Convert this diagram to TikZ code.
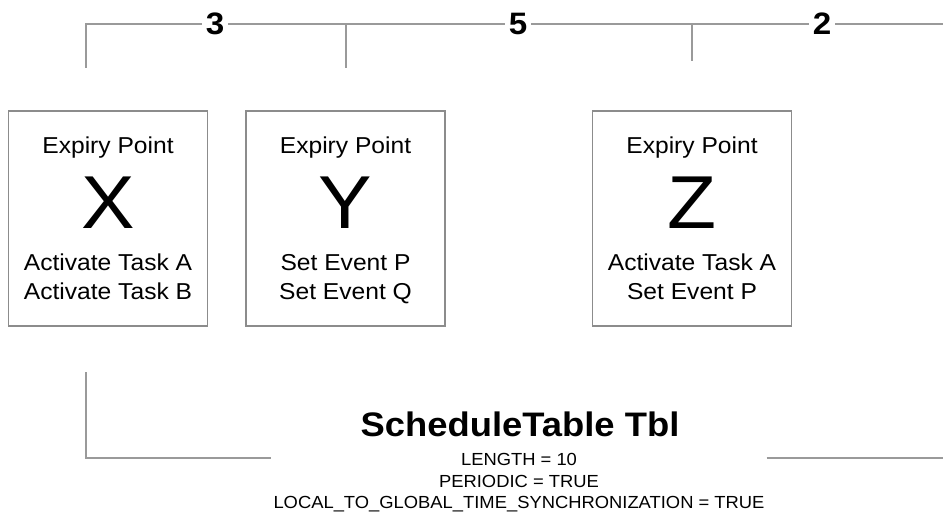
\documentclass[tikz,border=0pt]{standalone}
\usepackage{fontspec}
\setmainfont{Liberation Sans}[FakeStretch=1.07]
\newfontfamily\attrfont{Liberation Sans}[FakeStretch=1.05]
\definecolor{linegray}{HTML}{9A9A9A}
\definecolor{boxgray}{HTML}{8C8C8C}
\begin{document}
\begin{tikzpicture}[x=1pt,y=-1pt]
\useasboundingbox (0,0) rectangle (943,513);
\tikzset{
  rule/.style={draw=linegray, line width=1.6pt},
  epbox/.style={draw=boxgray, line width=1.2pt, minimum width=199pt,
    minimum height=215pt, inner sep=0pt},
  eptitle/.style={font=\fontsize{23}{28}\selectfont, anchor=base, inner sep=0pt},
  epletter/.style={font=\fontsize{75}{80}\selectfont, anchor=base, inner sep=0pt},
  epaction/.style={font=\fontsize{23}{28}\selectfont, anchor=base, inner sep=0pt},
  offsetlabel/.style={font=\bfseries\fontsize{31}{34}\selectfont, fill=white,
    inner xsep=4pt, inner ysep=0pt},
  tbltitle/.style={font=\bfseries\fontsize{34}{38}\selectfont, anchor=base, inner sep=0pt},
  tblattr/.style={font=\attrfont\fontsize{17.5}{20}\selectfont, anchor=base, inner sep=0pt},
}

% time axis with the offsets between expiry points
\coordinate (t0) at (86,24.3);
\coordinate (t1) at (346,24.3);
\coordinate (t2) at (692,24.3);
\coordinate (tend) at (943,24.3);
\coordinate (t0b) at (86,68);
\coordinate (t1b) at (346,68);
\coordinate (t2b) at (692,61);
\draw[rule, line join=miter] (t0b) -- (t0) -- (tend);
\draw[rule] (t1) -- (t1b);
\draw[rule] (t2) -- (t2b);
\node[offsetlabel] (o3) at (215,23.5) {3};
\node[offsetlabel] (o5) at (518,23.5) {5};
\node[offsetlabel] (o2) at (822,23.5) {2};

% expiry points
\node[epbox] (bx) at (108,218.5) {};
\node[epbox] (by) at (345.5,218.5) {};
\node[epbox] (bz) at (692,218.5) {};

\node[eptitle] (xt) at (108,154) {Expiry Point};
\node[epletter] (xl) at (108,229) {X};
\node[epaction] (xa1) at (108,271) {Activate Task A};
\node[epaction] (xa2) at (108,300) {Activate Task B};

\node[eptitle] (yt) at (345.5,154) {Expiry Point};
\node[epletter] (yl) at (345.5,229) {Y};
\node[epaction] (ya1) at (345.5,271) {Set Event P};
\node[epaction] (ya2) at (345.5,300) {Set Event Q};

\node[eptitle] (zt) at (692,154) {Expiry Point};
\node[epletter] (zl) at (692,229) {Z};
\node[epaction] (za1) at (692,271) {Activate Task A};
\node[epaction] (za2) at (692,300) {Set Event P};

% schedule table
\node[tbltitle] (tbl) at (520,436) {ScheduleTable Tbl};
\node[tblattr] (len) at (519,465.5) {LENGTH = 10};
\node[tblattr] (per) at (519,487) {PERIODIC = TRUE};
\node[tblattr] (sync) at (519,508.3) {LOCAL\_TO\_GLOBAL\_TIME\_SYNCHRONIZATION = TRUE};

\coordinate (b0) at (86,372);
\coordinate (b1) at (86,457.7);
\coordinate (bl) at ([xshift=-2pt]sync.west |- b1);
\coordinate (br) at ([xshift=2pt]sync.east |- b1);
\coordinate (bend) at (943,457.7);
\draw[rule, line join=miter] (b0) -- (b1) -- (bl);
\draw[rule] (br) -- (bend);
\end{tikzpicture}
\end{document}
